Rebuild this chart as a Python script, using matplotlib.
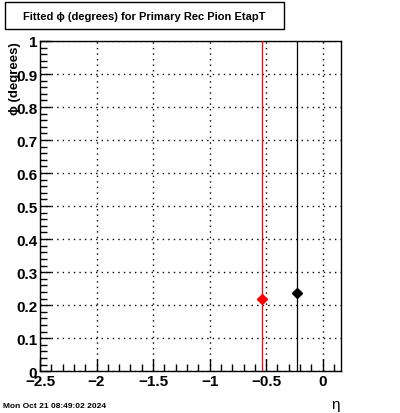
import matplotlib
matplotlib.use("Agg")
import matplotlib.pyplot as plt
from matplotlib.ticker import MultipleLocator
from matplotlib.patches import Rectangle

plt.rcParams['font.family'] = ['Liberation Sans', 'DejaVu Sans']
plt.rcParams['font.weight'] = 'bold'

# data points: eta, fitted phi
eta = [-0.534, -0.228]
phi = [0.218, 0.236]
phi_err = [1.5, 1.5]
colors = ['red', 'black']

fig = plt.figure(figsize=(4.0, 4.14), dpi=100)
ax = fig.add_axes([0.1, 0.101, 0.752, 0.7976])

for x, y, e, c in zip(eta, phi, phi_err, colors):
    ax.errorbar([x], [y], yerr=[e], fmt='D', color=c, markersize=5.5,
                elinewidth=0.9, capsize=0, zorder=3)

ax.set_xlim(-2.5, 0.16)
ax.set_ylim(0, 1)
ax.xaxis.set_major_locator(MultipleLocator(0.5))
ax.xaxis.set_minor_locator(MultipleLocator(0.1))
ax.yaxis.set_major_locator(MultipleLocator(0.1))
ax.yaxis.set_minor_locator(MultipleLocator(0.02))
ax.tick_params(which='major', direction='in', length=9, width=1,
               labelsize=11, pad=2)
ax.tick_params(which='minor', direction='in', length=5, width=1)
ax.tick_params(axis='y', which='major', length=8)
ax.grid(True, which='major', linestyle=(0, (1, 3)), color='black', linewidth=1)

ax.set_xticks([-2.5, -2, -1.5, -1, -0.5, 0])
ax.set_xticklabels(['\u22122.5', '\u22122', '\u22121.5', '\u22121', '\u22120.5', '0'])
ax.set_yticks([0, 0.1, 0.2, 0.3, 0.4, 0.5, 0.6, 0.7, 0.8, 0.9, 1])
ax.set_yticklabels(['0', '0.1', '0.2', '0.3', '0.4', '0.5', '0.6', '0.7', '0.8', '0.9', '1'])

for s in ax.spines.values():
    s.set_linewidth(1)

fig.text(0.038, 0.8986, '\u03d5 (degrees)', rotation=90, ha='center', va='top',
         fontsize=9.5, fontweight='bold')
fig.text(0.838, 0.005, '\u03b7', ha='center', va='bottom', fontsize=11,
         fontweight='normal')

fig.text(0.008, 0.01, 'Mon Oct 21 08:49:02 2024', fontsize=6, fontweight='bold',
         ha='left', va='bottom')

# title box
fig.patches.append(Rectangle((0.0125, 0.9275), 0.6975, 0.0653,
                             transform=fig.transFigure, facecolor='white',
                             edgecolor='black', linewidth=1))
fig.text(0.361, 0.960, 'Fitted \u03d5 (degrees) for Primary Rec Pion EtapT',
         ha='center', va='center', fontsize=8, fontweight='bold')

fig.savefig('out.png', dpi=100)
